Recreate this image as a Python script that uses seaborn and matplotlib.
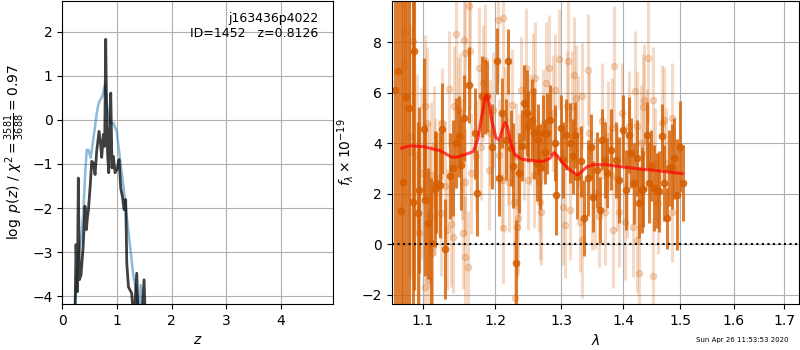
import matplotlib
matplotlib.use('Agg')
import matplotlib.pyplot as plt
from matplotlib.ticker import NullLocator
import seaborn as sns

# left panel: redshift probability curves
BLACK_Z = [0.23, 0.251, 0.275, 0.293, 0.312, 0.342, 0.38, 0.415, 0.44, 0.458,
           0.477, 0.51, 0.538, 0.565, 0.599, 0.63, 0.672, 0.70, 0.721, 0.751,
           0.775, 0.794, 0.812, 0.83, 0.849, 0.868, 0.886, 0.91, 0.935, 0.965,
           1.008, 1.038, 1.069, 1.099, 1.13, 1.16, 1.18, 1.21, 1.27, 1.31,
           1.362, 1.392, 1.45, 1.496, 1.52]
BLACK_LOGP = [-4.6, -2.83, -3.90, -1.32, -3.63, -3.52, -2.9, -1.96, -2.49, -2.23,
              -2.05, -1.5, -0.94, -0.97, -1.24, -0.7, -0.26, -0.55, -0.85, -0.33,
              -0.6, 1.83, -0.03, -0.8, -1.20, -0.2, 0.61, -1.09, -0.83, -1.20,
              -1.09, -0.90, -1.55, -1.74, -2.04, -1.81, -3.26, -3.79, -3.94, -4.6,
              -3.48, -4.6, -4.6, -3.63, -4.6]
BLUE_Z = [0.21, 0.294, 0.35, 0.385, 0.416, 0.447, 0.477, 0.52, 0.599, 0.63,
          0.66, 0.69, 0.733, 0.782, 0.812, 0.873, 0.935, 0.996, 1.057, 1.118,
          1.179, 1.240, 1.301, 1.362, 1.40, 1.435, 1.46]
BLUE_LOGP = [-4.6, -3.10, -2.6, -2.11, -1.27, -0.68, -0.68, -0.86, -0.15, 0.16,
             0.35, 0.45, 0.54, 0.80, 0.39, -0.07, -0.07, -0.26, -0.90, -1.51,
             -2.19, -2.87, -3.55, -3.93, -4.6, -3.75, -4.6]

# right panel: spectrum, strong points
DARK_WAVE = [1.0636, 1.0678, 1.0720, 1.0742, 1.0781, 1.0816, 1.0868, 1.0889, 1.0934, 1.0955,
             1.1013, 1.1034, 1.1070, 1.1114, 1.1160, 1.1182, 1.1227, 1.1259, 1.1303, 1.1372,
             1.1409, 1.1454, 1.1487, 1.1523, 1.1565, 1.1635, 1.1719, 1.1739, 1.1810, 1.1857,
             1.1890, 1.1953, 1.2034, 1.2063, 1.2107, 1.2161, 1.2195, 1.2230, 1.2269, 1.2308,
             1.2357, 1.2393, 1.2431, 1.2467, 1.2491, 1.2542, 1.2577, 1.2618, 1.2643, 1.2668,
             1.2719, 1.2745, 1.2781, 1.2818, 1.2904, 1.2920, 1.2998, 1.3024, 1.3077, 1.3130,
             1.3183, 1.3209, 1.3250, 1.3314, 1.3358, 1.3422, 1.3467, 1.3503, 1.3574, 1.3613,
             1.3655, 1.3695, 1.3738, 1.3805, 1.3888, 1.3933, 1.4001, 1.4046, 1.4107, 1.4136,
             1.4193, 1.4233, 1.4278, 1.4319, 1.4346, 1.4411, 1.4451, 1.4481, 1.4538, 1.4585,
             1.4626, 1.4668, 1.4715, 1.4756, 1.4802, 1.4850, 1.4891, 1.4935, 1.4999, 1.5053]
DARK_FLUX = [6.10, 6.85, 1.33, 2.48, 5.83, 5.40, 1.69, 7.67, 1.23, 2.15,
             4.58, 1.76, 0.83, 0.04, 2.19, 2.44, 2.35, 4.58, -0.19, 2.71,
             3.02, 4.01, 4.27, 3.15, 5.00, 6.32, 4.40, 2.02, 5.86, 5.86,
             5.86, 3.87, 7.27, 2.62, 5.20, 4.14, 7.25, 3.81, 3.12, -0.73,
             2.82, 3.91, 5.60, 5.20, 4.67, 4.93, 4.40, 3.21, 4.14, 3.08,
             4.40, 3.67, 4.40, 4.93, 4.01, 1.96, 4.60, 3.35, 4.34, 4.01,
             3.48, 4.34, 2.68, 3.28, 1.03, 2.62, 3.87, 1.89, 2.95, 1.36,
             4.14, 3.35, 2.82, 3.74, 3.35, 2.55, 4.53, 2.15, 4.34, 3.61,
             2.42, 3.41, 1.65, 2.15, 2.18, 4.34, 2.44, 3.11, 2.22, 2.13,
             2.09, 4.27, 2.44, 1.03, 3.02, 3.08, 3.41, 1.96, 3.87, 2.44]
DARK_ERR = [9.5, 9.5, 9.0, 9.0, 8.5, 8.5, 8.5, 9.5, 3.6, 3.3,
            2.8, 3.0, 2.2, 2.6, 2.3, 2.0, 2.1, 1.8, 2.0, 1.7,
            1.9, 1.8, 1.6, 1.8, 1.7, 1.5, 1.8, 1.7, 1.6, 1.5,
            1.4, 1.7, 1.3, 1.5, 1.4, 1.6, 1.3, 1.5, 1.7, 1.7,
            1.6, 1.4, 1.5, 1.7, 1.4, 1.6, 1.8, 1.5, 1.4, 1.7,
            1.5, 1.3, 1.6, 1.4, 1.5, 1.6, 1.3, 1.5, 1.4, 1.6,
            1.5, 1.3, 1.7, 1.4, 1.5, 1.5, 1.3, 1.4, 1.5, 1.3,
            1.2, 1.5, 1.4, 1.6, 1.5, 1.7, 1.4, 1.6, 1.5, 1.4,
            1.6, 1.5, 1.4, 1.7, 1.5, 1.3, 1.6, 1.4, 1.7, 1.5,
            1.6, 1.3, 1.5, 1.2, 1.5, 1.7, 1.6, 2.2, 1.8, 1.5]

# right panel: faint points
LIGHT_WAVE = [1.0768, 1.0772, 1.0816, 1.0838, 1.0868, 1.0925, 1.0946, 1.0982, 1.1035, 1.1057,
              1.1035, 1.1071, 1.1079, 1.1097, 1.1115, 1.1119, 1.1124, 1.1146, 1.1169, 1.1213,
              1.1249, 1.1258, 1.1295, 1.1327, 1.1350, 1.1386, 1.1404, 1.1418, 1.1455, 1.1478,
              1.1510, 1.1533, 1.1542, 1.1556, 1.1579, 1.1579, 1.1579, 1.1612, 1.1636, 1.1645,
              1.1659, 1.1729, 1.1776, 1.1800, 1.1823, 1.1861, 1.1918, 1.1928, 1.1966, 1.2038,
              1.2062, 1.2102, 1.2112, 1.2121, 1.2151, 1.2185, 1.2200, 1.2249, 1.2283, 1.2298,
              1.2308, 1.2318, 1.2333, 1.2347, 1.2383, 1.2432, 1.2457, 1.2482, 1.2517, 1.2557,
              1.2582, 1.2597, 1.2658, 1.2668, 1.2683, 1.2719, 1.2761, 1.2812, 1.2874, 1.2899,
              1.2961, 1.3030, 1.3055, 1.3092, 1.3108, 1.3134, 1.3160, 1.3203, 1.3230, 1.3267,
              1.3294, 1.3320, 1.3331, 1.3427, 1.3443, 1.3481, 1.3535, 1.3607, 1.3645, 1.3700,
              1.3755, 1.3810, 1.3828, 1.3850, 1.3892, 1.3938, 1.3977, 1.4033, 1.4061, 1.4106,
              1.4163, 1.4203, 1.4231, 1.4243, 1.4277, 1.4306, 1.4334, 1.4358, 1.4403, 1.4432,
              1.4508, 1.4520, 1.4549, 1.4608, 1.4666, 1.4707, 1.4743, 1.4844, 1.4856]
LIGHT_FLUX = [7.12, 8.37, 4.27, 3.67, 8.04, 3.54, 0.44, 2.82, 5.49, 4.80,
              -1.68, -1.42, 1.76, 1.10, 2.75, -0.10, -0.36, 3.87, 2.29, 2.62,
              1.23, 4.80, 2.29, 0.57, 6.15, 0.81, 0.28, 5.46, 8.33, 5.33,
              5.26, 3.35, 0.44, 8.11, 7.58, 2.48, -0.49, -0.89, 9.43, 7.64,
              2.82, 3.48, 7.00, 3.87, 6.39, 7.31, 2.95, 4.40, 5.33, 8.90,
              3.54, 2.55, 8.97, 0.63, 4.93, 3.87, 2.48, 5.53, 1.69, -2.14,
              3.48, 0.70, 1.03, 2.88, 6.12, 3.94, 6.98, 2.55, 4.54, 6.06,
              2.75, 6.59, 2.48, 1.69, 1.29, 4.73, 6.39, 6.98, 5.20, 6.12,
              7.34, 1.49, 0.77, 5.46, 7.25, 1.36, 5.46, 6.72, 5.79, 4.47,
              0.90, 0.17, 5.86, 6.92, 4.40, 1.89, 2.02, 1.10, 4.87, 1.29,
              4.27, 4.60, 0.57, 7.05, 2.62, 1.29, 5.20, 0.90, 2.35, 4.67,
              0.70, 6.06, 0.17, 4.67, -1.16, 4.01, 5.44, 5.73, 4.14, 7.38,
              -1.26, 5.73, 3.21, 1.63, 4.80, 4.93, 3.21, 1.29, 5.00]
LIGHT_ERR = [5.5, 6.0, 5.5, 5.0, 5.5, 3.2, 3.0, 3.4, 2.8, 3.0,
             2.6, 2.8, 3.1, 2.7, 2.9, 2.5, 2.6, 2.4, 2.7, 2.3,
             2.5, 2.2, 2.6, 2.4, 2.3, 2.5, 2.2, 2.4, 2.6, 2.1,
             2.3, 2.4, 2.2, 2.5, 2.3, 2.1, 2.4, 2.2, 2.5, 2.3,
             2.4, 2.2, 2.4, 2.1, 2.3, 2.2, 2.4, 2.1, 2.3, 2.5,
             2.2, 2.0, 2.4, 2.2, 2.1, 2.3, 2.0, 2.2, 2.4, 2.3,
             2.1, 2.0, 2.2, 2.3, 2.1, 2.2, 2.4, 2.0, 2.2, 2.3,
             2.1, 2.2, 2.0, 2.3, 2.1, 2.2, 2.4, 2.1, 2.3, 2.2,
             2.0, 2.3, 2.1, 2.2, 2.4, 2.0, 2.2, 2.3, 2.1, 2.2,
             2.0, 2.3, 2.1, 2.2, 2.4, 2.1, 2.2, 2.0, 2.3, 2.1,
             2.2, 2.0, 2.3, 2.4, 2.1, 2.2, 2.0, 2.3, 2.1, 2.2,
             2.0, 2.4, 2.1, 2.2, 2.0, 2.3, 2.1, 2.2, 2.0, 2.6,
             2.3, 2.1, 2.2, 2.0, 2.3, 2.1, 2.2, 2.0, 2.2]

# best-fit model
MODEL_WAVE = [1.0725, 1.0833, 1.1008, 1.1232, 1.1391, 1.1460, 1.1599, 1.1691, 1.1753, 1.1810,
              1.1857, 1.1881, 1.1914, 1.1953, 1.2015, 1.2063, 1.2107, 1.2146, 1.2180, 1.2230,
              1.2293, 1.2393, 1.2567, 1.2719, 1.2822, 1.2884, 1.2925, 1.3029, 1.3162, 1.3250,
              1.3320, 1.3401, 1.3507, 1.3728, 1.4005, 1.4290, 1.4580, 1.4874, 1.5030]
MODEL_FLUX = [3.81, 3.90, 3.87, 3.71, 3.45, 3.45, 3.58, 3.67, 4.14, 5.06,
              5.79, 5.92, 5.60, 4.93, 4.21, 4.14, 4.54, 4.83, 4.67, 4.01,
              3.54, 3.37, 3.31, 3.28, 3.41, 3.63, 3.54, 3.19, 2.88, 2.75,
              2.88, 3.06, 3.15, 3.15, 3.06, 2.98, 2.92, 2.84, 2.80]

WAVE_TICKS = [1.1, 1.2, 1.3, 1.4, 1.5, 1.6, 1.7]
ORANGE = sns.color_palette('colorblind')[3]


def draw_pz(ax):
    sns.lineplot(x=BLUE_Z, y=BLUE_LOGP, sort=False, estimator=None,
                 color='tab:blue', alpha=0.5, lw=1.8, ax=ax)
    sns.lineplot(x=BLACK_Z, y=BLACK_LOGP, sort=False, estimator=None,
                 color='k', alpha=0.75, lw=2.0, ax=ax)
    ax.set_xlim(0, 4.96)
    ax.set_ylim(-4.18, 2.7)
    ax.set_xticks([0, 1, 2, 3, 4])
    ax.set_yticks([-4, -3, -2, -1, 0, 1, 2])
    ax.grid(True)
    ax.set_axisbelow(True)
    ax.set_xlabel(r'$z$')
    ax.set_ylabel(r'$\log\ p(z)$' + ' / ' +
                  r'$\chi^2=\frac{3581}{3688}=0.97$')
    ax.text(0.945, 0.965, 'j163436p4022\nID=1452   z=0.8126',
            ha='right', va='top', fontsize=9, transform=ax.transAxes)


def draw_spectrum(ax):
    ax.errorbar(LIGHT_WAVE, LIGHT_FLUX, yerr=LIGHT_ERR, fmt='o', color=ORANGE,
                alpha=0.22, ms=4.5, elinewidth=2.2, zorder=1)
    ax.errorbar(DARK_WAVE, DARK_FLUX, yerr=DARK_ERR, fmt='o', color=ORANGE,
                alpha=0.8, ms=4.5, elinewidth=2.2, zorder=2)
    sns.lineplot(x=MODEL_WAVE, y=MODEL_FLUX, sort=False, estimator=None,
                 color='red', alpha=0.7, lw=2.2, ax=ax, zorder=3)
    ax.axhline(0, color='k', ls=':', lw=1.5, zorder=4)
    ax.set_xscale('log')
    ax.set_xticks(WAVE_TICKS)
    ax.set_xticklabels([f'{t:.1f}' for t in WAVE_TICKS])
    ax.xaxis.set_minor_locator(NullLocator())
    ax.set_xlim(1.0597, 1.731)
    ax.set_ylim(-2.37, 9.64)
    ax.set_yticks([-2, 0, 2, 4, 6, 8])
    ax.grid(True)
    ax.set_axisbelow(True)
    ax.set_xlabel(r'$\lambda$')
    ax.set_ylabel(r'$f_\lambda\times10^{-19}$')


def main():
    fig = plt.figure(figsize=(8, 3.5), dpi=100)
    axz = fig.add_axes([0.0779, 0.1314, 0.3388, 0.8657])
    axs = fig.add_axes([0.4896, 0.1314, 0.5095, 0.8657])
    draw_pz(axz)
    draw_spectrum(axs)
    fig.text(0.985, 0.02, 'Sun Apr 26 11:53:53 2020', ha='right',
             va='bottom', fontsize=5)
    fig.savefig('out.png', dpi=100)


if __name__ == '__main__':
    main()
